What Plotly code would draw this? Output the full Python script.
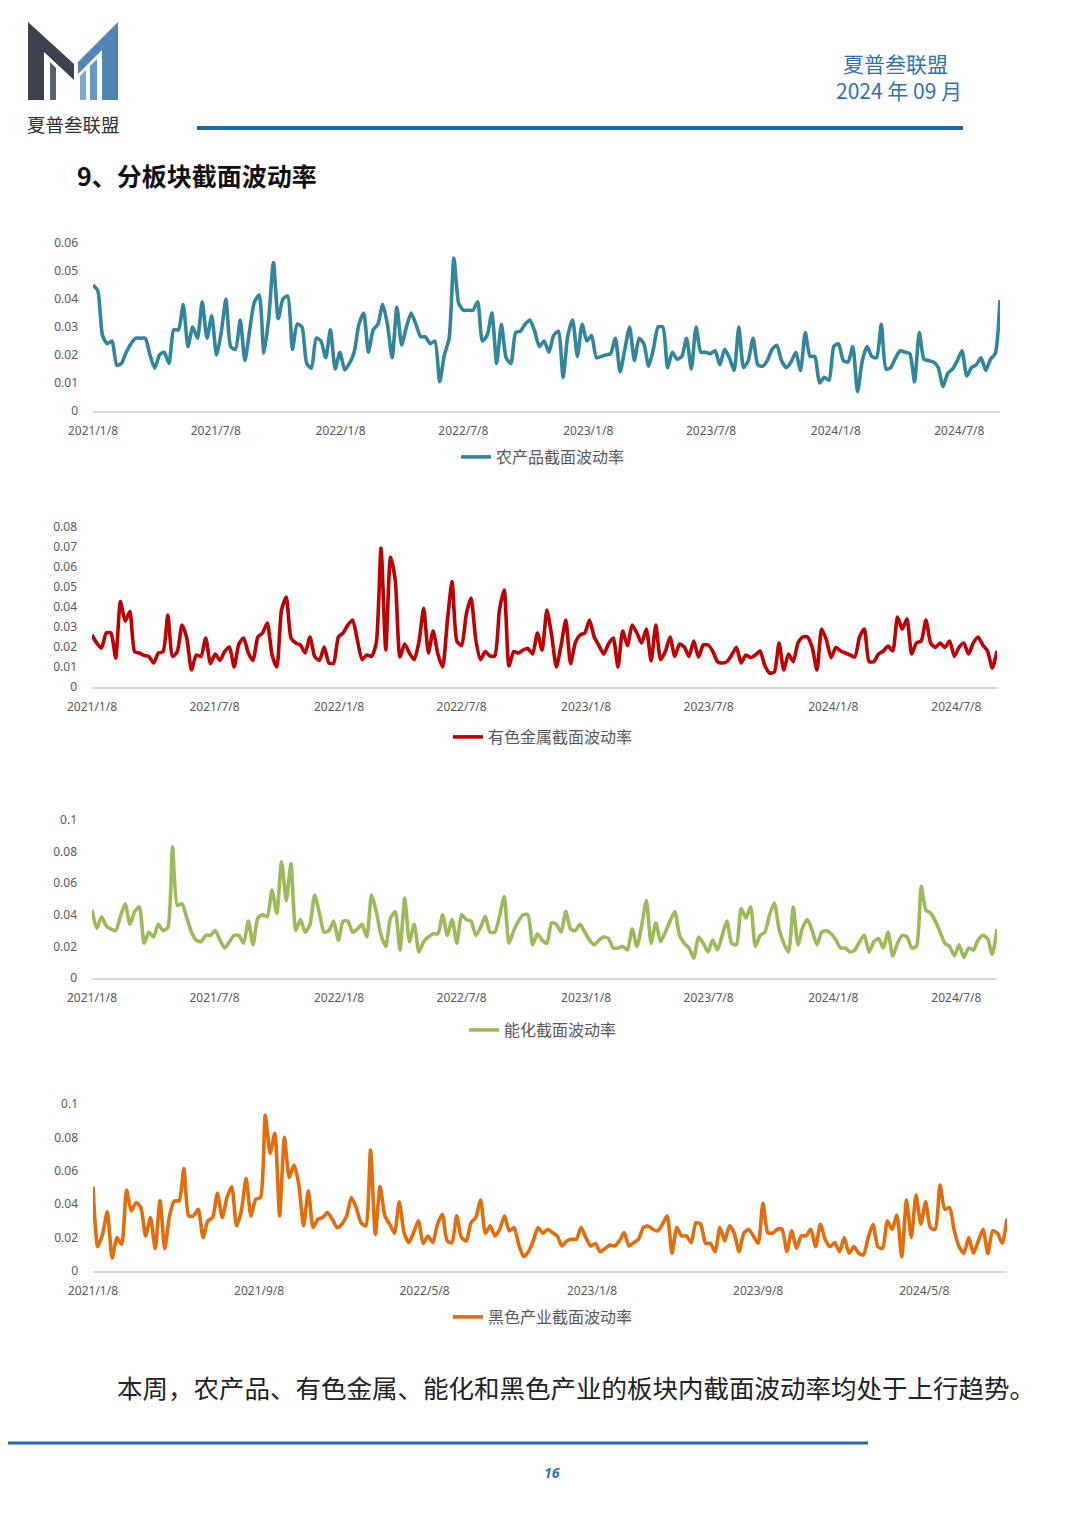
import pandas as pd
import plotly.graph_objects as go

# the page body has an 8px margin, so the figure is drawn 8px in from the window edge
PAGE_OFF = 8
W, H = 1080 - 2 * PAGE_OFF, 1528 - 2 * PAGE_OFF

start_date = "2021-01-08"

agri = [0.045,0.043,0.027,0.024,0.025,0.0164,0.017,0.021,0.024,0.026,
 0.026,0.026,0.020,0.0153,0.020,0.021,0.017,0.029,0.029,0.038,
 0.023,0.030,0.026,0.039,0.026,0.034,0.020,0.028,0.040,0.023,
 0.022,0.0325,0.018,0.029,0.039,0.0414,0.0207,0.033,0.053,0.033,
 0.040,0.041,0.022,0.031,0.030,0.017,0.0153,0.026,0.025,0.019,
 0.029,0.015,0.021,0.0147,0.017,0.021,0.031,0.035,0.021,0.029,
 0.031,0.038,0.031,0.019,0.037,0.0236,0.030,0.035,0.031,0.0265,
 0.0265,0.024,0.025,0.0105,0.020,0.026,0.0546,0.0385,0.036,0.036,
 0.036,0.039,0.025,0.027,0.035,0.017,0.031,0.019,0.017,0.028,
 0.0285,0.031,0.0325,0.0285,0.023,0.025,0.021,0.027,0.0285,0.012,
 0.027,0.0325,0.0195,0.031,0.025,0.027,0.019,0.0195,0.020,0.0205,
 0.026,0.014,0.022,0.030,0.018,0.026,0.024,0.016,0.022,0.030,
 0.030,0.0155,0.021,0.0185,0.0195,0.026,0.015,0.030,0.021,0.021,
 0.0205,0.0215,0.0165,0.022,0.019,0.0145,0.030,0.0155,0.018,0.026,
 0.0165,0.016,0.018,0.022,0.0235,0.018,0.0155,0.0175,0.021,0.0145,
 0.028,0.0195,0.0195,0.010,0.012,0.011,0.023,0.024,0.018,0.0175,
 0.023,0.0069,0.018,0.023,0.0195,0.019,0.031,0.015,0.0155,0.019,
 0.0215,0.021,0.0205,0.0105,0.028,0.0185,0.018,0.0175,0.0155,0.0087,
 0.0135,0.015,0.018,0.0215,0.0125,0.0155,0.0165,0.019,0.0145,0.0185,
 0.0205,0.0396]

metals = [0.026,0.022,0.0195,0.027,0.027,0.0145,0.0427,0.033,0.0377,0.0177,
 0.017,0.0158,0.0153,0.012,0.017,0.0177,0.036,0.0153,0.0177,0.031,
 0.0245,0.0085,0.016,0.0153,0.0245,0.0117,0.0165,0.0133,0.0177,0.020,
 0.010,0.0215,0.0245,0.017,0.0133,0.025,0.027,0.032,0.016,0.010,
 0.0385,0.045,0.0245,0.022,0.021,0.017,0.025,0.0153,0.0133,0.020,
 0.012,0.012,0.025,0.027,0.031,0.0335,0.0235,0.0137,0.016,0.0153,
 0.022,0.0695,0.0185,0.065,0.0535,0.015,0.0215,0.017,0.0137,0.0225,
 0.0393,0.017,0.028,0.0165,0.010,0.033,0.0527,0.023,0.0207,0.0365,
 0.0445,0.0235,0.0137,0.0177,0.0155,0.0155,0.0385,0.0485,0.0105,0.0177,
 0.017,0.0185,0.0193,0.0165,0.027,0.0185,0.0385,0.026,0.010,0.0207,
 0.0335,0.0117,0.022,0.026,0.027,0.0335,0.025,0.0207,0.0165,0.0215,
 0.0245,0.010,0.028,0.0207,0.031,0.027,0.022,0.029,0.013,0.031,
 0.0137,0.0177,0.025,0.0153,0.0215,0.020,0.0153,0.023,0.015,0.021,
 0.021,0.018,0.0127,0.012,0.0127,0.016,0.0198,0.012,0.016,0.0147,
 0.016,0.018,0.0107,0.007,0.0075,0.022,0.0085,0.0165,0.0127,0.022,
 0.025,0.025,0.0198,0.0085,0.029,0.0235,0.0147,0.0198,0.018,0.017,
 0.016,0.015,0.025,0.029,0.0127,0.0127,0.0165,0.018,0.0205,0.018,
 0.035,0.029,0.034,0.0165,0.022,0.023,0.0335,0.022,0.0198,0.022,
 0.0198,0.023,0.0153,0.0198,0.022,0.0165,0.022,0.025,0.021,0.018,
 0.0095,0.018]

energy = [0.043,0.0314,0.0388,0.033,0.031,0.030,0.039,0.047,0.034,0.042,
 0.045,0.022,0.029,0.026,0.034,0.030,0.032,0.083,0.046,0.047,
 0.038,0.029,0.024,0.023,0.027,0.027,0.030,0.024,0.019,0.023,
 0.027,0.027,0.022,0.036,0.021,0.038,0.040,0.039,0.0557,0.041,
 0.0736,0.049,0.0725,0.030,0.037,0.029,0.034,0.0525,0.041,0.029,
 0.030,0.036,0.024,0.036,0.036,0.029,0.031,0.034,0.026,0.0525,
 0.042,0.027,0.020,0.038,0.042,0.0177,0.0506,0.023,0.034,0.0165,
 0.023,0.026,0.028,0.028,0.040,0.027,0.037,0.022,0.040,0.037,
 0.036,0.027,0.032,0.039,0.029,0.029,0.039,0.0515,0.022,0.030,
 0.036,0.040,0.040,0.021,0.028,0.024,0.022,0.035,0.034,0.029,
 0.042,0.031,0.030,0.034,0.029,0.024,0.021,0.024,0.026,0.025,
 0.019,0.019,0.020,0.0177,0.031,0.020,0.033,0.049,0.022,0.035,
 0.023,0.029,0.036,0.042,0.027,0.022,0.019,0.0126,0.026,0.022,
 0.0165,0.024,0.0177,0.027,0.036,0.022,0.021,0.044,0.038,0.045,
 0.020,0.027,0.029,0.040,0.0475,0.031,0.022,0.0165,0.045,0.021,
 0.032,0.037,0.030,0.021,0.029,0.030,0.028,0.024,0.019,0.019,
 0.0165,0.0177,0.023,0.027,0.0165,0.023,0.025,0.019,0.029,0.014,
 0.022,0.027,0.026,0.019,0.020,0.058,0.043,0.041,0.036,0.029,
 0.022,0.020,0.014,0.021,0.013,0.019,0.0177,0.024,0.027,0.025,
 0.015,0.031]

ferrous = [0.0505,0.0146,0.022,0.0355,0.0078,0.020,0.016,0.0485,0.036,0.041,
 0.038,0.021,0.032,0.0135,0.042,0.0135,0.033,0.042,0.042,0.0615,
 0.033,0.033,0.037,0.020,0.030,0.032,0.0465,0.032,0.044,0.0505,
 0.027,0.036,0.0555,0.033,0.043,0.044,0.0934,0.0705,0.0825,0.033,
 0.080,0.056,0.0635,0.052,0.027,0.048,0.026,0.031,0.032,0.035,
 0.031,0.026,0.028,0.033,0.044,0.038,0.029,0.027,0.0725,0.022,
 0.0505,0.033,0.028,0.0226,0.0415,0.023,0.017,0.023,0.030,0.0165,
 0.021,0.017,0.028,0.034,0.018,0.017,0.033,0.020,0.018,0.029,
 0.032,0.0425,0.0226,0.027,0.021,0.025,0.033,0.024,0.026,0.0155,
 0.0086,0.0115,0.018,0.026,0.0226,0.025,0.023,0.021,0.015,0.018,
 0.019,0.019,0.026,0.020,0.015,0.0165,0.0115,0.0135,0.0155,0.015,
 0.018,0.023,0.015,0.017,0.019,0.026,0.027,0.025,0.024,0.028,
 0.033,0.0106,0.026,0.021,0.021,0.017,0.029,0.028,0.0166,0.0166,
 0.0116,0.026,0.018,0.027,0.0226,0.0116,0.0226,0.025,0.021,0.0166,
 0.0405,0.023,0.0226,0.025,0.025,0.0116,0.024,0.0136,0.021,0.021,
 0.025,0.0146,0.028,0.019,0.0146,0.017,0.0116,0.020,0.0106,0.0146,
 0.0106,0.0096,0.020,0.028,0.0146,0.0136,0.030,0.025,0.0335,0.0086,
 0.0425,0.020,0.0455,0.028,0.0415,0.026,0.025,0.0515,0.037,0.038,
 0.024,0.0146,0.0106,0.020,0.0106,0.018,0.025,0.0106,0.024,0.0226,
 0.0166,0.0315]

series_names = ["农产品截面波动率", "有色金属截面波动率", "能化截面波动率", "黑色产业截面波动率"]
series_colors = ["#31859c", "#c00000", "#9bbb59", "#e46c0a"]

tick_dates_6m = ["2021-01-08", "2021-07-08", "2022-01-08", "2022-07-08",
                 "2023-01-08", "2023-07-08", "2024-01-08", "2024-07-08"]
tick_text_6m = ["2021/1/8", "2021/7/8", "2022/1/8", "2022/7/8",
                "2023/1/8", "2023/7/8", "2024/1/8", "2024/7/8"]
tick_dates_8m = ["2021-01-08", "2021-09-08", "2022-05-08", "2023-01-08",
                 "2023-09-08", "2024-05-08"]
tick_text_8m = ["2021/1/8", "2021/9/8", "2022/5/8", "2023/1/8", "2023/9/8", "2024/5/8"]

y1_ticks = [0, 0.01, 0.02, 0.03, 0.04, 0.05, 0.06]
y1_text = ["0", "0.01", "0.02", "0.03", "0.04", "0.05", "0.06"]
y2_ticks = [0, 0.01, 0.02, 0.03, 0.04, 0.05, 0.06, 0.07, 0.08]
y2_text = ["0", "0.01", "0.02", "0.03", "0.04", "0.05", "0.06", "0.07", "0.08"]
y3_ticks = [0, 0.02, 0.04, 0.06, 0.08, 0.1]
y3_text = ["0", "0.02", "0.04", "0.06", "0.08", "0.1"]

header_org = "夏普叁联盟"
header_date = "2024 年 09 月"
section_title = "9、分板块截面波动率"
body_text = "本周，农产品、有色金属、能化和黑色产业的板块内截面波动率均处于上行趋势。"
page_no = "16"


def px(x):
    return (x - PAGE_OFF) / W


def py(y):
    return 1 - (y - PAGE_OFF) / H


# panel geometry in window pixels: x_left, x_right, y_top, y_bottom, y_max, legend_y
panels = [
    (93, 1000, 243, 411, 0.06, 457, tick_dates_6m, tick_text_6m, y1_ticks, y1_text),
    (92, 997, 527, 687, 0.08, 737, tick_dates_6m, tick_text_6m, y2_ticks, y2_text),
    (92, 997, 820, 978, 0.1, 1030, tick_dates_6m, tick_text_6m, y3_ticks, y3_text),
    (93, 1007, 1104, 1271, 0.1, 1317, tick_dates_8m, tick_text_8m, y3_ticks, y3_text),
]
all_series = [agri, metals, energy, ferrous]

fig = go.Figure()
tick_font = dict(family="Noto Sans, Liberation Sans, sans-serif", size=12, color="#595959")
legend_font = dict(family="Noto Sans CJK SC", size=16, color="#595959")

for k, (vals, p) in enumerate(zip(all_series, panels)):
    xl, xr, yt, yb, ymax, ly, tdates, ttext, yticks, ytext = p
    dates = pd.date_range(start_date, periods=len(vals), freq="7D")
    sfx = "" if k == 0 else str(k + 1)
    fig.add_trace(go.Scatter(
        x=dates, y=vals, mode="lines", name=series_names[k],
        line=dict(color=series_colors[k], width=3.6, shape="spline", smoothing=0.6),
        xaxis="x" + sfx, yaxis="y" + sfx,
        legend="legend" + sfx, showlegend=True, hoverinfo="skip",
    ))
    fig.update_layout(**{
        "xaxis" + sfx: dict(
            domain=[px(xl), px(xr)], anchor="y" + sfx, type="date",
            range=[start_date, dates[-1]], automargin=False,
            tickvals=tdates, ticktext=ttext, tickfont=tick_font,
            showline=True, linecolor="#d9d9d9", linewidth=1.5,
            showgrid=False, zeroline=False, ticks="", ticklabelstandoff=8,
        ),
        "yaxis" + sfx: dict(
            domain=[py(yb), py(yt)], anchor="x" + sfx, range=[0, ymax],
            automargin=False,
            tickvals=yticks, ticktext=ytext, tickfont=tick_font,
            showline=False, showgrid=False, zeroline=False, ticks="",
            ticklabelstandoff=14,
        ),
        "legend" + sfx: dict(
            x=px(543), y=py(ly), xanchor="center", yanchor="middle",
            orientation="h", font=legend_font, bgcolor="rgba(0,0,0,0)",
            itemwidth=30,
        ),
    })

shapes = []
# header rule
shapes.append(dict(type="line", xref="paper", yref="paper", x0=px(197), x1=px(963),
                   y0=py(128), y1=py(128), line=dict(color="#1f6aa5", width=4)))
# footer rule
shapes.append(dict(type="line", xref="paper", yref="paper", x0=px(0), x1=px(868),
                   y0=py(1443), y1=py(1443), line=dict(color="#1f6aa5", width=3)))


def poly(points, color):
    path = "M " + " L ".join(f"{px(x)},{py(y)}" for x, y in points) + " Z"
    return dict(type="path", xref="paper", yref="paper", path=path,
                fillcolor=color, line=dict(width=0))


# logo
shapes.append(poly([(28, 100), (28, 22), (74, 64), (74, 80), (44, 52), (44, 100)], "#3c4350"))
shapes.append(poly([(118, 22), (118, 100), (102, 100), (102, 50), (78, 74), (78, 62)], "#4f86b6"))
shapes.append(poly([(80, 76), (86, 70), (86, 100), (80, 100)], "#7aa7d0"))
shapes.append(poly([(90, 66), (97, 59), (97, 100), (90, 100)], "#6496c4"))
shapes.append(poly([(50, 62), (56, 68), (56, 100), (50, 100)], "#5a6270"))

annotations = [
    dict(text=header_org, x=px(73), y=py(124), xref="paper", yref="paper",
         showarrow=False, xanchor="center", yanchor="middle",
         font=dict(family="Noto Sans CJK SC", size=18.5, color="#333333")),
    dict(text=header_org, x=px(895), y=py(63), xref="paper", yref="paper",
         showarrow=False, xanchor="center", yanchor="middle",
         font=dict(family="Noto Sans CJK SC", size=21, color="#2e74b5")),
    dict(text=header_date, x=px(899), y=py(90), xref="paper", yref="paper",
         showarrow=False, xanchor="center", yanchor="middle",
         font=dict(family="Noto Sans CJK SC", size=21, color="#2e74b5")),
    dict(text="<b>" + section_title + "</b>", x=px(75), y=py(175), xref="paper", yref="paper",
         showarrow=False, xanchor="left", yanchor="middle",
         font=dict(family="Noto Sans CJK SC", size=25, color="#111111")),
    dict(text=body_text, x=px(115), y=py(1386), xref="paper", yref="paper",
         showarrow=False, xanchor="left", yanchor="middle",
         font=dict(family="Noto Sans CJK SC", size=25.5, color="#222222")),
    dict(text="<b><i>" + page_no + "</i></b>", x=px(552), y=py(1472), xref="paper", yref="paper",
         showarrow=False, xanchor="center", yanchor="middle",
         font=dict(family="Noto Sans", size=14, color="#2e74b5")),
]

fig.update_layout(
    width=W, height=H, margin=dict(l=0, r=0, t=0, b=0, autoexpand=False),
    paper_bgcolor="white", plot_bgcolor="white",
    shapes=shapes, annotations=annotations,
)

fig.write_html("out.html")
